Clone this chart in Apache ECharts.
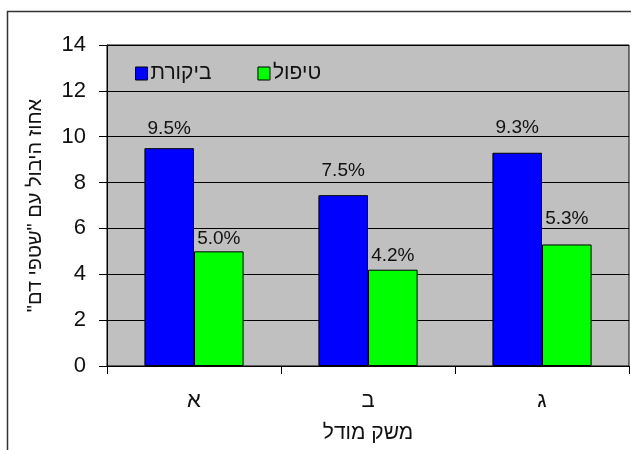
<!DOCTYPE html>
<html>
<head>
<meta charset="utf-8">
<script src="https://cdn.jsdelivr.net/npm/echarts@6/dist/echarts.min.js"></script>
<style>
  html, body { margin: 0; padding: 0; background: #fff; }
  #chart { width: 631px; height: 450px; }
</style>
</head>
<body>
<div id="chart"></div>
<script>
// ---- data ----
const categories = ['א', 'ב', 'ג'];
const seriesNames = ['ביקורת', 'טיפול'];
const controlValues = [9.5, 7.45, 9.3];
const treatmentValues = [5.0, 4.2, 5.3];
const controlLabels = ['9.5%', '7.5%', '9.3%'];
const treatmentLabels = ['5.0%', '4.2%', '5.3%'];
const yMin = 0, yMax = 14, yStep = 2;
const xTitle = 'משק מודל';
const yTitle = 'אחוז היבול עם "שטפי דם"\u200F';

// ---- layout / style (not data) ----
const controlLabelGap = [10, 15, 15];
const treatmentLabelGap = [3, 4, 16];
const FONT = 'Arial, "Liberation Sans", "DejaVu Sans", sans-serif';

function buildData(values, labels, gaps) {
  return values.map((v, i) => ({
    value: v,
    label: { distance: gaps[i], formatter: () => labels[i] }
  }));
}

const chart = echarts.init(document.getElementById('chart'), null, { renderer: 'canvas' });

const barStyle = (color) => ({
  type: 'bar',
  barGap: '0%',
  barCategoryGap: '43%',
  itemStyle: { color: color, borderColor: '#000', borderWidth: 1 },
  label: {
    show: true,
    position: 'top',
    color: '#111',
    fontSize: 19,
    fontFamily: FONT
  },
  emphasis: { disabled: true },
  animation: false
});

chart.setOption({
  backgroundColor: '#fff',
  animation: false,
  graphic: [{
    type: 'rect',
    shape: { x: 7.5, y: 11.5, width: 700, height: 500 },
    style: { fill: 'none', stroke: '#333', lineWidth: 1.5 },
    silent: true,
    z: -1
  }],
  legend: {
    left: 135,
    top: 63,
    padding: 0,
    itemWidth: 12,
    itemHeight: 13,
    itemGap: 46,
    icon: 'rect',
    itemStyle: { borderColor: '#000', borderWidth: 1 },
    textStyle: { fontSize: 21, color: '#111', fontFamily: FONT, padding: [0, 0, 0, -2] },
    data: seriesNames
  },
  grid: {
    left: 107,
    right: 2,
    top: 45,
    bottom: 84,
    show: true,
    backgroundColor: '#C0C0C0',
    borderColor: '#000',
    borderWidth: 1
  },
  xAxis: {
    type: 'category',
    data: categories,
    name: xTitle,
    nameLocation: 'middle',
    nameGap: 57,
    nameTextStyle: { fontSize: 21, color: '#111', fontFamily: FONT },
    axisLine: { lineStyle: { color: '#000', width: 1 } },
    axisTick: { show: true, length: 8, alignWithLabel: false, lineStyle: { color: '#000' } },
    axisLabel: { margin: 24, fontSize: 22, color: '#111', fontFamily: FONT },
    splitLine: { show: false }
  },
  yAxis: {
    type: 'value',
    min: yMin,
    max: yMax,
    interval: yStep,
    name: yTitle,
    nameLocation: 'middle',
    nameRotate: 90,
    nameGap: 62,
    nameTextStyle: { fontSize: 20, color: '#111', fontFamily: FONT },
    axisLine: { show: true, lineStyle: { color: '#000', width: 1 } },
    axisTick: { show: true, length: 8, lineStyle: { color: '#000' } },
    axisLabel: { margin: 21, fontSize: 22, color: '#111', fontFamily: FONT },
    splitLine: { show: true, lineStyle: { color: '#000', width: 1 } }
  },
  series: [
    Object.assign(barStyle('#0000FF'), {
      name: seriesNames[0],
      data: buildData(controlValues, controlLabels, controlLabelGap)
    }),
    Object.assign(barStyle('#00FF00'), {
      name: seriesNames[1],
      data: buildData(treatmentValues, treatmentLabels, treatmentLabelGap)
    })
  ]
});
</script>
</body>
</html>
